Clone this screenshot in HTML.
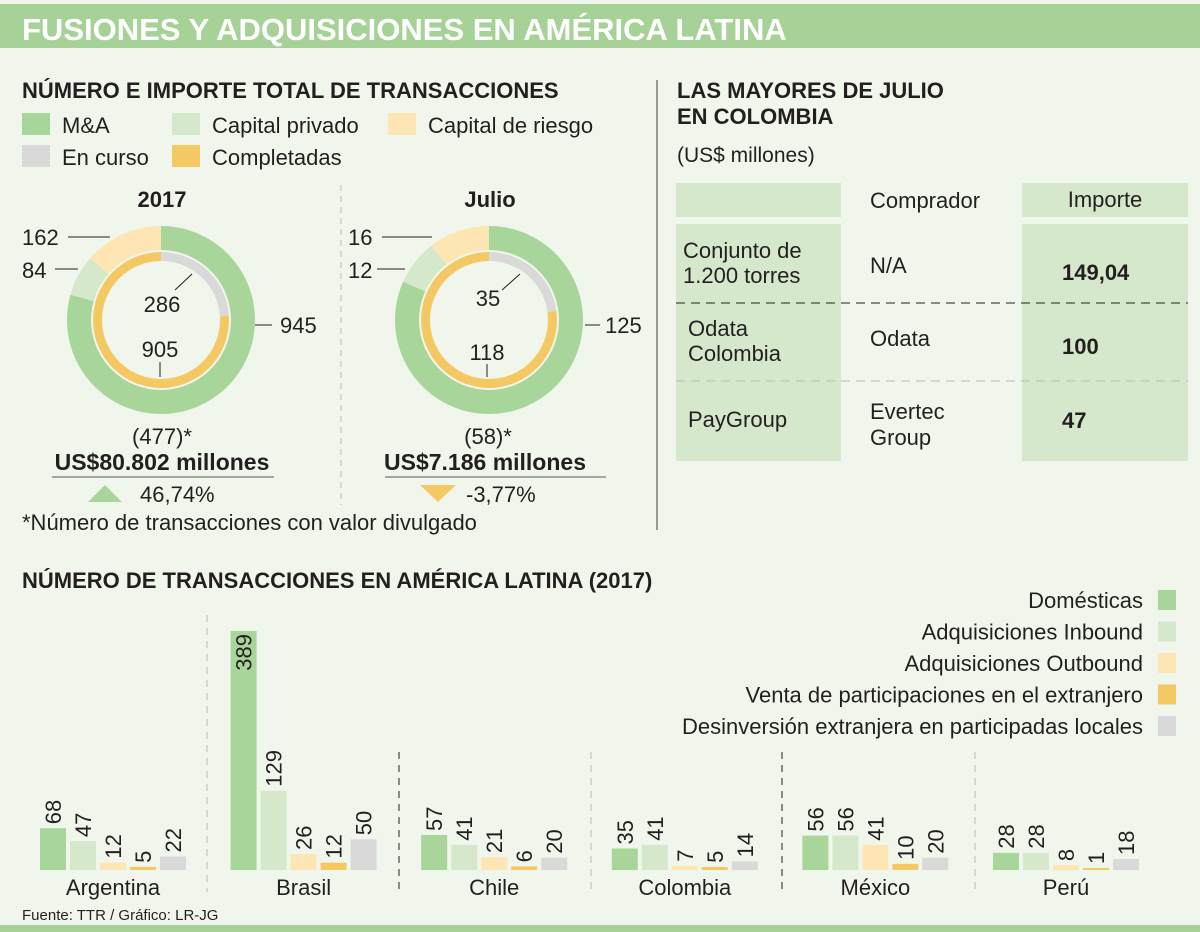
<!DOCTYPE html>
<html><head><meta charset="utf-8">
<style>
html,body{margin:0;padding:0;background:#f1f6ec;}
svg{display:block;font-family:"Liberation Sans",sans-serif;}
text{fill:#231f20;}
.b{font-weight:bold;}
</style></head>
<body>
<svg id="root" width="1200" height="932" viewBox="0 0 1200 932" xmlns="http://www.w3.org/2000/svg">
<rect width="1200" height="932" fill="#f1f6ec"/>
<rect x="0" y="4" width="1200" height="44" fill="#a6d297"/>
<text x="22" y="40" class="b" font-size="31" style="fill:#fff">FUSIONES Y ADQUISICIONES EN AMÉRICA LATINA</text>
<rect x="0" y="925" width="1200" height="7" fill="#a6d297"/>

<text x="22" y="98" class="b" font-size="22">NÚMERO E IMPORTE TOTAL DE TRANSACCIONES</text>
<g font-size="22">
<rect x="22" y="113" width="28" height="22" fill="#a8d59a"/><text x="62" y="133">M&amp;A</text>
<rect x="172" y="113" width="28" height="22" fill="#d5e8cb"/><text x="212" y="133">Capital privado</text>
<rect x="388" y="113" width="28" height="22" fill="#fde6b3"/><text x="428" y="133">Capital de riesgo</text>
<rect x="22" y="145" width="28" height="22" fill="#d9d9d9"/><text x="62" y="165">En curso</text>
<rect x="172" y="145" width="28" height="22" fill="#f4c862"/><text x="212" y="165">Completadas</text>
</g>
<line x1="341" y1="185" x2="341" y2="505" stroke="#bbb" stroke-dasharray="6,5"/>
<line x1="657" y1="80" x2="657" y2="530" stroke="#999" stroke-width="2"/>

<text x="162" y="207" class="b" font-size="22" text-anchor="middle">2017</text>
<text x="490" y="207" class="b" font-size="22" text-anchor="middle">Julio</text>
<g id="donuts"></g>

<g font-size="22" stroke="#231f20" stroke-width="1">
<text x="22" y="245" stroke="none">162</text><line x1="68" y1="237" x2="110" y2="237"/>
<text x="22" y="278" stroke="none">84</text><line x1="55" y1="269" x2="78" y2="269"/>
<text x="280" y="333" stroke="none">945</text><line x1="255" y1="325" x2="272" y2="325"/>
<text x="162" y="312" stroke="none" text-anchor="middle">286</text><line x1="175" y1="290" x2="192" y2="274"/>
<text x="160" y="357" stroke="none" text-anchor="middle">905</text><line x1="160" y1="362" x2="160" y2="377"/>
<text x="348" y="245" stroke="none">16</text><line x1="382" y1="237" x2="432" y2="237"/>
<text x="348" y="278" stroke="none">12</text><line x1="377" y1="269" x2="405" y2="269"/>
<text x="605" y="333" stroke="none">125</text><line x1="585" y1="325" x2="600" y2="325"/>
<text x="488" y="306" stroke="none" text-anchor="middle">35</text><line x1="502" y1="290" x2="520" y2="274"/>
<text x="487" y="360" stroke="none" text-anchor="middle">118</text><line x1="487" y1="364" x2="487" y2="377"/>
</g>

<g font-size="22">
<text x="162" y="444" text-anchor="middle">(477)*</text>
<text x="162" y="470" text-anchor="middle" font-size="23" style="font-weight:600">US$80.802 millones</text>
<line x1="52" y1="477" x2="274" y2="477" stroke="#555"/>
<polygon points="88,502 105,485 122,502" fill="#a8d59a"/>
<text x="140" y="502">46,74%</text>
</g>
<g font-size="22">
<text x="488" y="444" text-anchor="middle">(58)*</text>
<text x="485" y="470" text-anchor="middle" font-size="23" style="font-weight:600">US$7.186 millones</text>
<line x1="385" y1="477" x2="606" y2="477" stroke="#555"/>
<polygon points="420,485 456,485 438,502" fill="#f4c862"/>
<text x="466" y="502">-3,77%</text>
</g>
<text x="22" y="530" font-size="22">*Número de transacciones con valor divulgado</text>

<text x="677" y="98" class="b" font-size="22">LAS MAYORES DE JULIO</text>
<text x="677" y="124" class="b" font-size="22">EN COLOMBIA</text>
<text x="677" y="162" font-size="21">(US$ millones)</text>
<g font-size="22">
<rect x="676" y="183" width="165" height="34" fill="#d5e8cb"/>
<rect x="1022" y="183" width="166" height="34" fill="#d5e8cb"/>
<rect x="676" y="224" width="165" height="237" fill="#d5e8cb"/>
<rect x="1022" y="224" width="166" height="237" fill="#d5e8cb"/>
<line x1="676" y1="303" x2="1188" y2="303" stroke="#231f20" stroke-dasharray="9,6"/>
<line x1="676" y1="381" x2="1188" y2="381" stroke="#bbb" stroke-dasharray="9,6"/>
<text x="870" y="208">Comprador</text>
<text x="1105" y="207" text-anchor="middle">Importe</text>
<text x="683" y="258">Conjunto de</text><text x="683" y="283">1.200 torres</text>
<text x="870" y="273">N/A</text><text x="1062" y="280" style="font-weight:600">149,04</text>
<text x="688" y="336">Odata</text><text x="688" y="361">Colombia</text>
<text x="870" y="346">Odata</text><text x="1062" y="354" style="font-weight:600">100</text>
<text x="688" y="427">PayGroup</text>
<text x="870" y="419">Evertec</text><text x="870" y="445">Group</text>
<text x="1062" y="428" style="font-weight:600">47</text>
</g>

<text x="22" y="588" class="b" font-size="22">NÚMERO DE TRANSACCIONES EN AMÉRICA LATINA (2017)</text>
<g id="barlegend" font-size="22"></g>
<g id="bars"></g>
<text x="22" y="920" font-size="15">Fuente: TTR / Gráfico: LR-JG</text>
</svg>
<script>
const NS="http://www.w3.org/2000/svg";
// Donut data
const donutLabels=["2017","Julio"];
const outerValues=[[945,84,162],[125,12,16]];
const innerValues=[[286,905],[35,118]];
const outerColors=["#a8d59a","#d5e8cb","#fde6b3"];
const innerColors=["#d9d9d9","#f4c862"];
// Bar data
const countries=["Argentina","Brasil","Chile","Colombia","México","Perú"];
const seriesNames=["Domésticas","Adquisiciones Inbound","Adquisiciones Outbound","Venta de participaciones en el extranjero","Desinversión extranjera en participadas locales"];
const domesticas=[68,389,57,35,56,28];
const inbound=[47,129,41,41,56,28];
const outbound=[12,26,21,7,41,8];
const ventas=[5,12,6,5,10,1];
const desinversion=[22,50,20,14,20,18];
const seriesColors=["#a8d59a","#d5e8cb","#fde6b3","#f4c862","#d9d9d9"];

function mk(tag,attrs,parent){const e=document.createElementNS(NS,tag);for(const k in attrs)e.setAttribute(k,attrs[k]);parent.appendChild(e);return e;}
function arc(cx,cy,r0,r1,a0,a1){
  const p=(r,a)=>[cx+r*Math.sin(a),cy-r*Math.cos(a)];
  const large=(a1-a0)>Math.PI?1:0;
  const [x1,y1]=p(r1,a0),[x2,y2]=p(r1,a1),[x3,y3]=p(r0,a1),[x4,y4]=p(r0,a0);
  return `M${x1},${y1}A${r1},${r1} 0 ${large} 1 ${x2},${y2}L${x3},${y3}A${r0},${r0} 0 ${large} 0 ${x4},${y4}Z`;
}
const dg=document.getElementById('donuts');
const centersX=[161,489];
donutLabels.forEach((lab,i)=>{
  const cx=centersX[i],cy=320;
  const ring=(vals,cols,r0,r1,nm)=>{
    const tot=vals.reduce((a,b)=>a+b,0);let a=0;
    vals.forEach((v,j)=>{const a1=a+v/tot*2*Math.PI;
      const el=mk('path',{d:arc(cx,cy,r0,r1,a,Math.min(a1,2*Math.PI-1e-4)),fill:cols[j]},dg);
      
      
      a=a1;});
  };
  ring(outerValues[i],outerColors,70,94,'outer-slice');
  ring(innerValues[i],innerColors,59,68,'inner-slice');
});
// bar legend
const lg=document.getElementById('barlegend');
seriesNames.forEach((n,j)=>{
  const y=600+j*31.5;
  const t=mk('text',{x:1143,y:y+8,'text-anchor':'end'},lg);t.textContent=n;
  
  
  const r=mk('rect',{x:1158,y:y-10,width:18,height:20,fill:seriesColors[j]},lg);
  
  
});
// bars
const bg=document.getElementById('bars');
const series=[domesticas,inbound,outbound,ventas,desinversion];
const base=870,scale=239/389;
const yH=v=>Math.max(2,v*scale);
const groupX=i=>40+i*190.6;
const barX=j=>j*30;
const seps=[207,399,591,782,975];
const sepStyle=[["#bbb",615],["#231f20",752],["#bbb",752],["#231f20",752],["#bbb",752]];
seps.forEach((x,i)=>{const l=mk('line',{x1:x,y1:sepStyle[i][1],x2:x,y2:892,stroke:sepStyle[i][0],'stroke-dasharray':'7,6'},bg);
  
  });
countries.forEach((c,i)=>{
  const gx=groupX(i);
  series.forEach((s,j)=>{
    const h=yH(s[i]),x=gx+barX(j);
    const r=mk('rect',{x:x,y:base-h,width:26,height:h,fill:seriesColors[j]},bg);
    
    
    const inside=h>150;
    const ty=inside?base-h+3:base-h-4;
    const t=mk('text',{transform:`translate(${x+21},${ty}) rotate(-90)`,'font-size':22,'text-anchor':inside?'end':'start'},bg);
    t.textContent=s[i];
    
    
  });
  const t=mk('text',{x:gx+73,y:895,'font-size':22,'text-anchor':'middle'},bg);
  t.textContent=c;
  
  
});
</script>
</body></html>
